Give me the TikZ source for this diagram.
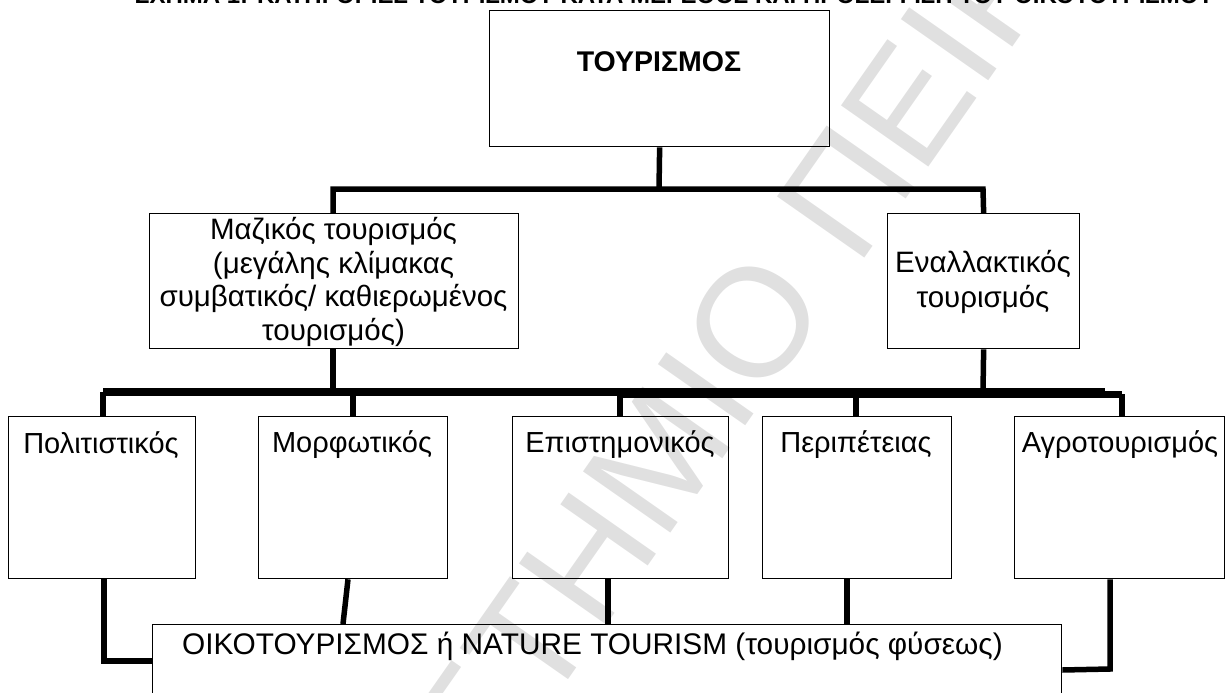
\documentclass[tikz,border=0pt]{standalone}
\usepackage{fontspec}
\setmainfont{Liberation Sans}
\begin{document}
\begin{tikzpicture}[x=1pt,y=-1pt,
  box/.style={draw, line width=1.3pt, inner sep=0pt, anchor=north west},
  txt/.style={inner sep=0pt, font=\fontsize{29}{34}\selectfont},
  conn/.style={line width=5.5pt},
  wmark/.style={inner sep=0pt, rotate=55, text=black!12, font=\fontsize{155}{155}\selectfont}]
\useasboundingbox (0,0) rectangle (1227,693);
\clip (0,0) rectangle (1227,693);
% watermark
\node[wmark, anchor=east] (wm1) at (788,273) {ΠΑΝΕΠΙΣΤΗΜΙΟ};
\node[wmark, anchor=west] (wm2) at (813,238) {ΠΕΙΡΑΙΩΣ};
% title (cut off at top)
\node[inner sep=0pt, anchor=base west, font=\bfseries\fontsize{24}{28}\selectfont] (title) at (135,4) {ΣΧΗΜΑ 1: ΚΑΤΗΓΟΡΙΕΣ ΤΟΥΡΙΣΜΟΥ ΚΑΤΑ ΜΕΓΕΘΟΣ ΚΑΙ ΠΡΟΣΕΓΓΙΣΗ ΤΟΥ ΟΙΚΟΤΟΥΡΙΣΜΟΥ};
% boxes
\node[box, minimum width=340pt, minimum height=136pt] (tour) at (489,10) {};
\node[inner sep=0pt, font=\bfseries\fontsize{28.5}{34}\selectfont] (tourT) at (659,62) {ΤΟΥΡΙΣΜΟΣ};
\node[box, minimum width=369pt, minimum height=135pt] (maz) at (149,213) {};
\node[txt, font=\fontsize{29.5}{33.7}\selectfont, align=center] (mazT) at (333.5,282) {Μαζικός τουρισμός\\(μεγάλης κλίμακας\\συμβατικός/ καθιερωμένος\\τουρισμός)};
\node[box, minimum width=192pt, minimum height=135pt] (enal) at (887,213) {};
\node[txt, font=\fontsize{29.5}{35}\selectfont, align=center] (enalT) at (983,282) {Εναλλακτικός\\τουρισμός};
% bottom row
\node[box, minimum width=187pt, minimum height=162pt] (b1) at (8,416) {};
\node[box, minimum width=189pt, minimum height=162pt] (b2) at (258,416) {};
\node[box, minimum width=216pt, minimum height=162pt] (b3) at (512,416) {};
\node[box, minimum width=189pt, minimum height=162pt] (b4) at (762,416) {};
\node[box, minimum width=210pt, minimum height=162pt] (b5) at (1014,416) {};
\node[txt] (b1T) at (101,445) {Πολιτιστικός};
\node[txt] (b2T) at (352,445) {Μορφωτικός};
\node[txt] (b3T) at (620,445) {Επιστημονικός};
\node[txt] (b4T) at (856,445) {Περιπέτειας};
\node[txt] (b5T) at (1120,445) {Αγροτουρισμός};
% eco box
\node[box, minimum width=909pt, minimum height=120pt] (eco) at (152,624) {};
\node[txt, anchor=west, font=\fontsize{29.8}{34}\selectfont] (ecoT) at (182,646) {ΟΙΚΟΤΟΥΡΙΣΜΟΣ ή NATURE TOURISM (τουρισμός φύσεως)};
% junction coordinates
\coordinate (j1) at (659,189);
\coordinate (jm) at (333,189);
\coordinate (je) at (983,189);
\coordinate (kL) at (103,392);
\coordinate (kR) at (1122,394);
% top connectors
\draw[conn] (tour.south) -- (j1);
\draw[conn] (maz.north -| jm) -- (jm) -- (je) -- (enal.north);
% middle connectors
\draw[conn, line width=7.5pt] (kL) -- (1105,392);
\draw[conn, line width=7pt] (620,394) -- (kR);
\draw[conn] (maz.south -| jm) -- (333,392);
\draw[conn] (enal.south) -- (983,392);
\draw[conn] (kL) -- (b1.north -| kL);
\draw[conn] (353,392) -- (b2.north -| 353,0);
\draw[conn] (620,392) -- (b3.north -| 620,0);
\draw[conn] (856,392) -- (b4.north -| 856,0);
\draw[conn] (kR) -- (b5.north -| kR);
% lower connectors
\draw[conn] (b1.south -| 104,0) -- (104,661) -- (eco.west |- 0,661);
\draw[conn] (b2.south -| 348,0) -- (eco.north -| 343,0);
\draw[conn] (b3.south -| 608,0) -- (eco.north -| 608,0);
\draw[conn] (b4.south -| 847,0) -- (eco.north -| 847,0);
\draw[conn] (b5.south -| 1110,0) -- (1110,669) -- (eco.east |- 0,670);
\end{tikzpicture}
\end{document}
